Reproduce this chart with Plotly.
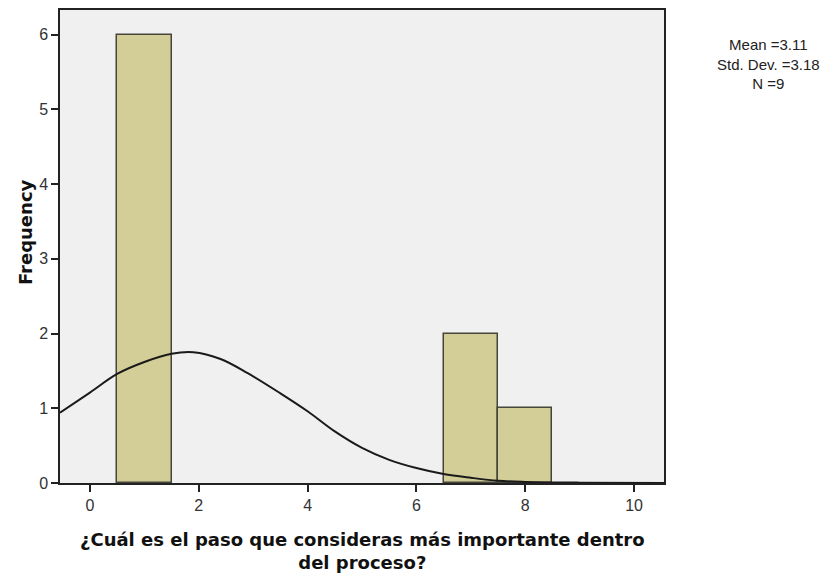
import plotly.graph_objects as go

# Histogram bins (bin centre, count)
bin_centers = [1, 7, 8]
counts = [6, 2, 1]

# Normal curve overlay, sampled along the x axis
curve_x = [-0.55, 0.0, 0.5, 1.0, 1.5, 1.9, 2.4, 2.9, 3.5, 4.0, 4.5, 5.0,
           5.5, 6.0, 6.5, 7.0, 7.5, 8.0, 9.0, 10.55]
curve_y = [0.94, 1.21, 1.46, 1.62, 1.73, 1.75, 1.66, 1.47, 1.20, 0.96, 0.69,
           0.47, 0.31, 0.20, 0.12, 0.07, 0.03, 0.015, 0.005, 0.0]

x_ticks = [0, 2, 4, 6, 8, 10]
y_ticks = [0, 1, 2, 3, 4, 5, 6]

stats_lines = ["Mean =3.11", "Std. Dev. =3.18", "N =9"]
x_title_lines = ["¿Cuál es el paso que consideras más importante dentro", "del proceso?"]
y_title = "Frequency"

fig = go.Figure()

fig.add_trace(go.Bar(
    x=bin_centers, y=counts, width=1,
    marker=dict(color="#D3CE98", line=dict(color="#45453a", width=1.5)),
    hoverinfo="x+y", showlegend=False,
))

fig.add_trace(go.Scatter(
    x=curve_x, y=curve_y, mode="lines",
    line=dict(color="#1a1a1a", width=2, shape="spline", smoothing=1.0),
    hoverinfo="skip", showlegend=False,
))

axis_font = dict(family="Liberation Sans, Arial, sans-serif", size=16, color="#333333")
title_font = dict(family="DejaVu Sans, Verdana, sans-serif", size=18, color="#111111")

# plot-area pixel geometry used to place the free-standing labels
L, R, T, B = 60, 664, 8, 483
W, H = R - L, B - T

fig.update_layout(
    width=827, height=573,
    margin=dict(l=L, r=827 - R, t=T, b=573 - B),
    paper_bgcolor="white",
    plot_bgcolor="#F0F0F0",
    bargap=0,
    xaxis=dict(
        range=[-0.55, 10.55], tickvals=x_ticks, ticks="outside", ticklen=7,
        tickwidth=1.5, tickcolor="#222222", showline=True, mirror=True,
        linecolor="#222222", linewidth=1.5, showgrid=False, zeroline=False,
        tickfont=axis_font,
    ),
    yaxis=dict(
        range=[0, 6.33], tickvals=y_ticks, ticks="outside", ticklen=7,
        tickwidth=1.5, tickcolor="#222222", showline=True, mirror=True,
        linecolor="#222222", linewidth=1.5, showgrid=False, zeroline=False,
        tickfont=axis_font,
    ),
    annotations=[
        dict(text="<br>".join(stats_lines), xref="paper", yref="paper",
             x=(768 - L) / W, y=(B - 62) / H,
             xanchor="center", yanchor="middle", showarrow=False, align="center",
             font=dict(family="Liberation Sans, Arial, sans-serif", size=15, color="#222222")),
        dict(text="<br>".join("<b>" + s + "</b>" for s in x_title_lines),
             xref="paper", yref="paper",
             x=0.5, y=(B - 551) / H,
             xanchor="center", yanchor="middle", showarrow=False, align="center",
             font=title_font),
        dict(text="<b>" + y_title + "</b>", xref="paper", yref="paper",
             x=(25 - L) / W, y=(B - 231) / H, textangle=-90,
             xanchor="center", yanchor="middle", showarrow=False,
             font=title_font),
    ],
)

fig.write_html("out.html")
